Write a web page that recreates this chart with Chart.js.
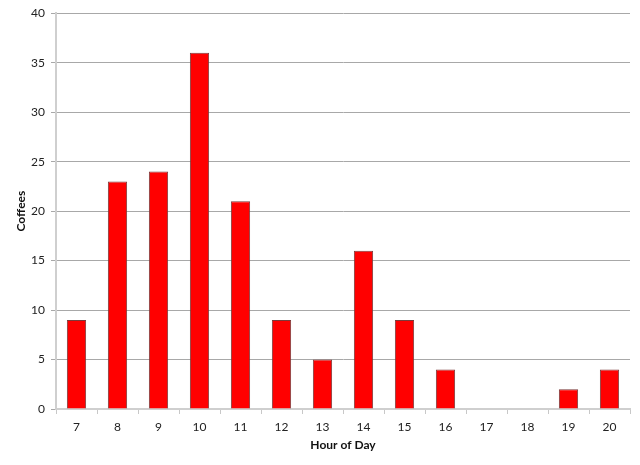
<!DOCTYPE html>
<html><head><meta charset="utf-8">
<style>html,body{margin:0;padding:0;background:#fff;}#wrap{width:640px;height:465px;}</style>
<script src="https://cdn.jsdelivr.net/npm/chart.js@4"></script>
</head><body><div id="wrap"><canvas id="c" width="640" height="465"></canvas></div>
<script>
const hours = ['7','8','9','10','11','12','13','14','15','16','17','18','19','20'];
const coffees = [9,23,24,36,21,9,5,16,9,4,0,0,2,4];
const yTicks = [0,5,10,15,20,25,30,35,40];

Chart.defaults.font.family = 'Lato, "Open Sans", sans-serif';
Chart.defaults.font.size = 12;
Chart.defaults.color = '#222';

new Chart(document.getElementById('c'), {
  type: 'bar',
  data: { labels: hours, datasets: [{ data: coffees, backgroundColor: '#ff0000', borderColor: '#7a3a3a', borderWidth: { top: 1, left: 1, right: 1, bottom: 0 }, borderSkipped: false, barPercentage: 0.47, categoryPercentage: 1 }] },
  options: {
    responsive: false, animation: false,
    layout: { padding: { top: 13, right: 10, left: 0, bottom: 0 } },
    plugins: { legend: { display: false }, tooltip: { enabled: false } },
    scales: {
      x: {
        grid: { drawOnChartArea: false, drawTicks: true, tickLength: 5, color: '#c8c8c8', offset: true },
        border: { color: '#cfcfcf', width: 2 },
        ticks: { padding: 6, color: '#222', maxRotation: 0 },
        title: { display: true, text: 'Hour of Day', font: { weight: 'bold', size: 12 }, color: '#111', padding: { top: 2, bottom: 13 } },
        afterFit: s => { s.height = 56; }
      },
      y: {
        min: 0, max: 40,
        afterBuildTicks: s => { s.ticks = yTicks.map(v => ({ value: v })); },
        grid: { color: '#a8a8a8', tickLength: 5, lineWidth: 1 },
        border: { color: '#cfcfcf', width: 2 },
        ticks: { padding: 6, color: '#222' },
        title: { display: true, text: 'Coffees', font: { weight: 'bold', size: 12 }, color: '#111', padding: { top: 14, bottom: 4 } },
        afterFit: s => { s.width = 56; }
      }
    }
  }
});
</script></body></html>
